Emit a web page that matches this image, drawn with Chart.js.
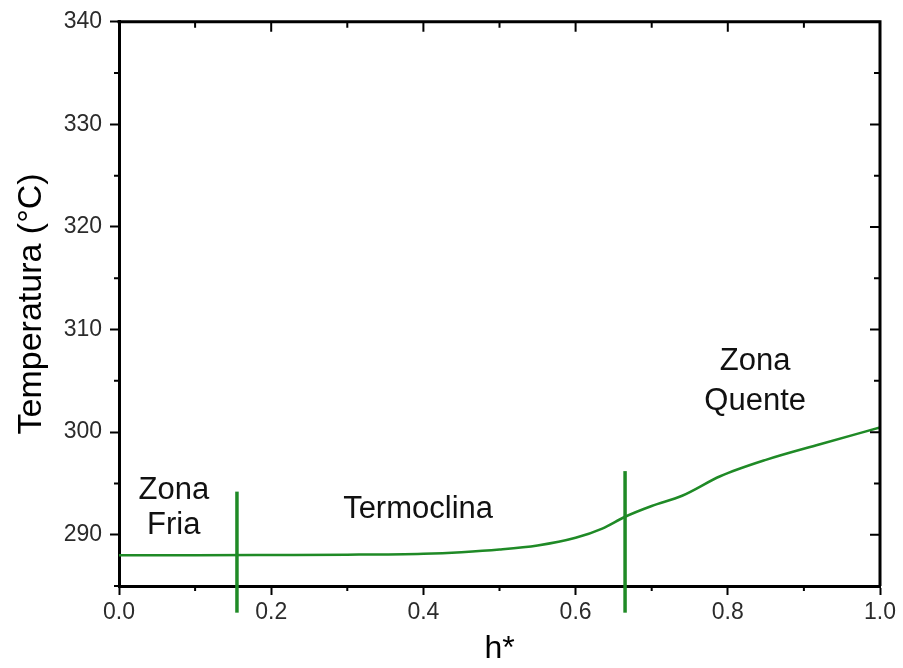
<!DOCTYPE html>
<html>
<head>
<meta charset="utf-8">
<script src="https://cdn.jsdelivr.net/npm/chart.js@4.4.0/dist/chart.umd.min.js"></script>
<style>
  html, body { margin: 0; padding: 0; background: #fff; }
  #wrap { width: 903px; height: 668px; }
</style>
</head>
<body>
<div id="wrap"><canvas id="chart" width="903" height="668"></canvas></div>
<script>
// profile data
const hStar = [0, 0.1, 0.2, 0.3, 0.4, 0.45, 0.5, 0.55, 0.6, 0.635, 0.665, 0.7, 0.74, 0.79, 0.85, 0.92, 1.0];
const temp = [288.0, 288.0, 288.02, 288.05, 288.15, 288.3, 288.55, 288.95, 289.7, 290.6, 291.75, 292.8, 293.8, 295.7, 297.3, 298.8, 300.45];

// zone boundaries (x, y from, y to)
const boundX = [0.155, 0.665];
const boundTop = [294.2, 296.2];
const boundBottom = [282.4, 282.4];

const xTicks = [0, 0.2, 0.4, 0.6, 0.8, 1.0];
const xMinor = [0.1, 0.3, 0.5, 0.7, 0.9];
const yTicks = [290, 300, 310, 320, 330, 340];
const yMinor = [285, 295, 305, 315, 325, 335];

const zoneLabels = [
  { lines: ['Zona', 'Fria'], x: 0.072, y: [294.3, 290.9] },
  { lines: ['Termoclina'], x: 0.393, y: [292.5] },
  { lines: ['Zona', 'Quente'], x: 0.836, y: [306.9, 303.0] }
];

const green = '#1f8a26';
const font = 'Liberation Sans, Arial, sans-serif';

// frame + inward/outward minor ticks, and zone texts
const framePlugin = {
  id: 'frame',
  afterDraw(chart) {
    const { ctx, chartArea: a, scales: { x, y } } = chart;
    ctx.save();
    ctx.strokeStyle = '#000';
    ctx.lineWidth = 3;
    ctx.beginPath();
    ctx.moveTo(a.left - 1.5, a.top);
    ctx.lineTo(a.right, a.top);
    ctx.lineTo(a.right, a.bottom);
    ctx.stroke();
    ctx.lineWidth = 2;
    ctx.beginPath();
    xTicks.forEach(v => {
      const px = x.getPixelForValue(v);
      ctx.moveTo(px, a.top); ctx.lineTo(px, a.top + 10);
    });
    xMinor.forEach(v => {
      const px = x.getPixelForValue(v);
      ctx.moveTo(px, a.top); ctx.lineTo(px, a.top + 6);
      ctx.moveTo(px, a.bottom); ctx.lineTo(px, a.bottom + 5);
    });
    yTicks.forEach(v => {
      const py = y.getPixelForValue(v);
      ctx.moveTo(a.right, py); ctx.lineTo(a.right - 10, py);
    });
    yMinor.forEach(v => {
      const py = y.getPixelForValue(v);
      ctx.moveTo(a.right, py); ctx.lineTo(a.right - 6, py);
      ctx.moveTo(a.left, py); ctx.lineTo(a.left - 5, py);
    });
    ctx.stroke();

    ctx.fillStyle = '#111';
    ctx.font = '31px ' + font;
    ctx.textAlign = 'center';
    ctx.textBaseline = 'middle';
    zoneLabels.forEach(z => {
      z.lines.forEach((t, i) => {
        ctx.fillText(t, x.getPixelForValue(z.x), y.getPixelForValue(z.y[i]));
      });
    });
    ctx.restore();
  }
};

const boundSets = boundX.map((bx, i) => ({
  data: [{ x: bx, y: boundBottom[i] }, { x: bx, y: boundTop[i] }],
  showLine: true,
  borderColor: green,
  borderWidth: 3.5,
  pointRadius: 0,
  clip: false
}));

new Chart(document.getElementById('chart'), {
  type: 'scatter',
  data: {
    datasets: [{
      data: hStar.map((h, i) => ({ x: h, y: temp[i] })),
      showLine: true,
      borderColor: green,
      borderWidth: 2.5,
      pointRadius: 0,
      cubicInterpolationMode: 'monotone'
    }, ...boundSets]
  },
  options: {
    responsive: false,
    animation: false,
    layout: { padding: { top: 19, right: 23, left: 0, bottom: 0 } },
    plugins: { legend: { display: false }, tooltip: { enabled: false } },
    scales: {
      x: {
        type: 'linear', min: 0, max: 1,
        afterFit: s => { s.height = 82; },
        afterBuildTicks: s => { s.ticks = xTicks.map(v => ({ value: v })); },
        ticks: { color: '#2b2b2b', font: { size: 23, family: font }, padding: 4, callback: v => v.toFixed(1) },
        grid: { drawOnChartArea: false, tickLength: 9, tickWidth: 2, tickColor: '#000' },
        border: { color: '#000', width: 3 },
        title: { display: true, text: 'h*', color: '#000', font: { size: 32, family: font }, padding: { top: 0, bottom: 0 } }
      },
      y: {
        type: 'linear', min: 285, max: 340,
        afterFit: s => { s.width = 119; },
        afterBuildTicks: s => { s.ticks = yTicks.map(v => ({ value: v })); },
        ticks: { color: '#2b2b2b', font: { size: 23, family: font }, padding: 8 },
        grid: { drawOnChartArea: false, tickLength: 9, tickWidth: 2, tickColor: '#000' },
        border: { color: '#000', width: 3 },
        title: { display: true, text: 'Temperatura (°C)', color: '#000', font: { size: 34, family: font }, padding: { top: 11, bottom: 0 } }
      }
    }
  },
  plugins: [framePlugin]
});
</script>
</body>
</html>
